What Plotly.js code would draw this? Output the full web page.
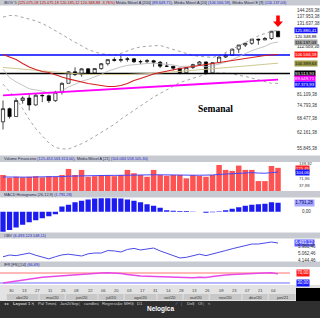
<!DOCTYPE html>
<html><head><meta charset="utf-8">
<script src="https://cdn.plot.ly/plotly-3.0.1.min.js"></script>
<style>html,body{margin:0;padding:0;background:#fff;overflow:hidden}#c{width:320px;height:318px}</style>
</head><body><div id="c"></div>
<script>
// ---------- DATA (weekly IBOV candles, index 0 = week of 23/03/2020) ----------
const weekIdx = Array.from({length:43},(_,i)=>i);
const openP  = [67070,73430,69540,77680,78990,75330,80510,80260,77560,82170,87400,94640,92800,96570,93830,96760,100030,102890,102380,102910,103440,101350,101470,102140,101060,98360,98290,96990,94020,97480,99450,101260,93950,100750,104720,106040,110580,113750,115130,118430,117810,119020,125075.18];
const highP  = [77700,74000,78900,79900,81000,81500,81000,80900,83000,88000,95000,97600,97000,97000,97000,100500,103000,104500,105700,104600,104000,102800,103300,102800,102000,101200,98500,97000,98000,100000,101900,101600,101000,105000,107300,110900,113800,115500,118500,118900,120200,125300,125075.18];
const lowP   = [63600,68600,69500,76000,72500,75000,76800,76400,77000,80900,87400,92000,91500,93200,93000,96000,98800,101500,101000,101400,100600,99700,100500,97900,97000,97700,95500,93000,94000,96500,98500,93200,93900,100300,104000,105800,107600,112200,113900,114000,117700,117900,120185.12];
const closeP = [73430,69540,77680,78990,75330,80510,80260,77560,82170,87400,94640,92800,96570,93830,96760,100030,102890,102380,102910,103440,101350,101470,102140,101060,98360,98290,96990,94020,97480,99450,101260,93950,100750,104720,106040,110580,113750,115130,118430,117810,119020,125075.18,120348.88];
const sma20  = [106600,104800,103000,100200,97800,96100,94800,94200,92600,91300,90100,89100,87900,87300,86700,86100,85500,85500,86100,87300,89100,90400,91900,93200,94200,95200,96100,96800,97500,98200,98800,99500,100200,100900,101600,102300,103000,103700,104400,105100,105900,106200,106566.59];
const sma200 = [80400,80600,80800,81000,81200,81400,81700,81900,82100,82300,82500,82700,82900,83200,83400,83600,83800,84000,84300,84500,84700,84900,85100,85300,85600,85800,86000,86200,86500,86700,86900,87200,87400,87600,87800,88100,88300,88500,88800,89000,89200,89400,89649.71];
const smaOlive = [97500,97200,96800,96400,96000,95600,95200,94800,94300,93900,93600,93300,93100,92900,92800,92700,92700,92700,92800,92900,93000,93200,93400,93600,93900,94200,94500,94800,95100,95500,95800,96100,96500,96900,97300,97700,98100,98500,98900,99300,99700,100100,100399.63];
const ema9   = [96300,90900,88300,86400,84200,83500,82900,81800,81800,83000,85300,86800,88700,89800,91200,93000,95000,96500,97800,98900,99400,99800,100200,100400,100000,99700,99200,98200,98100,98400,99000,98000,98600,99800,101000,102900,105100,107100,109400,111100,112700,115200,116137.03];
const bbUpper= [137900,139400,139200,137800,136000,134200,131900,128800,125700,122300,119000,115800,112800,110300,108500,107200,106500,106200,107400,109200,111100,112300,112900,113200,113400,111800,110700,108800,107400,105900,105200,104800,104500,105600,108100,110300,113400,115800,118600,121100,123200,124900,125880.41];
const bbLower= [86900,82400,78600,73400,68200,64000,60700,58000,56200,55700,55600,56600,57700,59000,60700,62200,63900,65900,68300,70400,73000,74900,77200,79500,81500,83800,85700,87900,89200,90800,92200,93100,93900,94000,93800,93400,92300,91700,90600,89500,88400,87400,87373.93];
const hLineBlue = 106200, hLineBlack = 93513.93;
const volume = [89,75,80,77,80,83,77,83,80,89,120,89,115,80,83,89,89,83,89,115,98,89,80,115,89,85,89,89,72,89,85,80,89,140,115,110,137,115,115,58,58,135,125.45];
const volMA21 = [79,78,78,78,78,79,79,79,80,81,83,84,86,86,86,86,87,87,88,89,90,90,89,90,90,89,89,88,88,88,88,88,89,92,94,96,98,100,101,99,98,101,104.06];
const macdHist = [-3980,-3600,-3100,-2600,-2100,-1700,-1300,-900,-500,1050,1400,1900,2200,2450,2650,2720,2720,2720,2650,2450,2200,1900,1500,1200,800,300,200,150,150,-50,0,-200,-100,100,300,600,900,1200,1400,1500,1600,1900,1791.28];
const obv = [4600,4830,4750,4900,5100,4800,4550,4300,4600,4850,4950,4850,4700,5000,5110,5110,5450,5400,5250,5600,5750,5530,5700,5800,5400,5050,4800,4430,4520,4700,4950,4750,4950,5200,5450,5700,5900,6100,6350,6350,6500,6630,6493.12];
const ifr = [30,34,40,43,46,50,53,55,57,59,62,63,65,66,68,70,71,70,68,64,60,58,57,56,55,54,53,51,50,51,53,52,56,60,62,64,66,67,68,69,70,71,66.69];
const ifrHigh = 70, ifrLow = 30;
const dayIdx = [1,3,5,7,9,11,13,15,17,19,21,23,25,27,29,31,33,35,37,39,41];
const dayLabels = ["30","13","27","11","25","08","22","06","20","03","17","31","14","28","13","26","09","23","07","21","04"];
const monthLabels = ["abr/20","mai/20","jun/20","jul/20","ago/20","set/20","out/20","nov/20","dez/20","jan/21"];
const monthStart = [0.5,5.5,9.5,14.5,18.5,23.5,27.5,31.5,36.5,40.5,44.75];
const mainTickVals = [144269.38,137953.38,131637.38,112689.38,81109.38,74793.38,68477.38,62161.38,55845.38];
const mainTickText = ["144.269,38","137.953,38","131.637,38","112.689,38","81.109,38","74.793,38","68.477,38","62.161,38","55.845,38"];
const mainBoxes = [
  [125880.41,"125.880,41","#1414ff","#fff",0],
  [120348.88,"120.348,88","#ffffff","#000",0],
  [116137.03,"116.137,03","#a3a3a3","#000",0],
  [106566.59,"106.566,59","#ff1a1a","#fff",0],
  [100399.63,"100.399,63","#9c9a44","#111",0],
  [93513.93,"93.513,93","#000000","#fff",0],
  [89649.71,"89.649,71","#ff00ff","#fff",1.2],
  [87373.93,"87.373,93","#1414ff","#fff",-1.2]];
const volTickVals=[139.92,71.96,37.98], volTickText=["139,92","71,96","37,98"];
const volBoxes=[[125.45,"125,45","#ff2020","#fff"],[104.06,"104,06","#1414ff","#fff"]];
const obvTickVals=[5980.46,5062.46,4144.46], obvTickText=["5.980,46","5.062,46","4.144,46"];

// ---------- HELPERS ----------
const W=320,H=318;
const PX=p=>p/W, PY=p=>1-p/H;
const dom=(t,b)=>[1-b/H,1-t/H];
const idxToPx=i=>3+6.548*i;
const hidden={showgrid:false,zeroline:false,showticklabels:false,ticks:'',showline:false,fixedrange:true};
const FONT='Liberation Sans, Arial, sans-serif';

const traces=[];
traces.push({type:'scatter',mode:'lines',x:weekIdx,y:bbUpper,line:{color:'#9a9a9a',width:0.9,dash:'dot'},hoverinfo:'skip'});
traces.push({type:'scatter',mode:'lines',x:weekIdx,y:bbLower,line:{color:'#9a9a9a',width:0.9,dash:'dot'},hoverinfo:'skip'});
traces.push({type:'scatter',mode:'lines',x:[-2,46],y:[hLineBlue,hLineBlue],line:{color:'#0000ff',width:1.6},hoverinfo:'skip'});
traces.push({type:'scatter',mode:'lines',x:[-2,46],y:[hLineBlack,hLineBlack],line:{color:'#000000',width:1.6},hoverinfo:'skip'});
traces.push({type:'scatter',mode:'lines',x:weekIdx,y:smaOlive,line:{color:'#cfc890',width:1},hoverinfo:'skip'});
traces.push({type:'scatter',mode:'lines',x:weekIdx,y:ema9,line:{color:'#b5b5b5',width:0.8},hoverinfo:'skip'});
traces.push({type:'scatter',mode:'lines',x:weekIdx,y:sma200,line:{color:'#ff00ff',width:1.8},hoverinfo:'skip'});
traces.push({type:'scatter',mode:'lines',x:weekIdx,y:sma20,line:{color:'#d42020',width:1.1},hoverinfo:'skip'});
traces.push({type:'candlestick',x:weekIdx,open:openP,high:highP,low:lowP,close:closeP,
  increasing:{line:{color:'#000',width:0.7},fillcolor:'#ffffff'},
  decreasing:{line:{color:'#000',width:0.7},fillcolor:'#000000'},whiskerwidth:0,hoverinfo:'skip'});
traces.push({type:'bar',x:weekIdx,y:volume,yaxis:'y2',width:0.84,marker:{color:'#ff5252',line:{width:0}},hoverinfo:'skip'});
traces.push({type:'scatter',mode:'lines',x:weekIdx,y:volMA21,yaxis:'y2',line:{color:'#4646ff',width:1},hoverinfo:'skip'});
traces.push({type:'bar',x:weekIdx,y:macdHist,yaxis:'y3',width:0.8,marker:{color:'#1c1cf2',line:{width:0}},hoverinfo:'skip'});
traces.push({type:'scatter',mode:'lines',x:weekIdx,y:obv,yaxis:'y4',line:{color:'#4a4ae6',width:1},hoverinfo:'skip'});
traces.push({type:'scatter',mode:'lines',x:[-2,46],y:[ifrHigh,ifrHigh],yaxis:'y5',line:{color:'#ff7070',width:1},hoverinfo:'skip'});
traces.push({type:'scatter',mode:'lines',x:[-2,46],y:[ifrLow,ifrLow],yaxis:'y5',line:{color:'#7070ff',width:1},hoverinfo:'skip'});
traces.push({type:'scatter',mode:'lines',x:weekIdx,y:ifr,yaxis:'y5',line:{color:'#e848e8',width:1.3},hoverinfo:'skip'});

const shapes=[];
const rect=(x0,y0,x1,y1,fill)=>shapes.push({type:'rect',xref:'paper',yref:'paper',x0:PX(x0),x1:PX(x1),y0:PY(y1),y1:PY(y0),fillcolor:fill,line:{width:0},layer:'below'});
[[0,5.5],[155.5,162],[191,197.5],[232.5,238.5],[261.5,267]].forEach(b=>rect(0,b[0],320,b[1],'#c7cbd1'));
rect(0,285,320,301,'#e3e3e3');
for(let m=0;m<monthLabels.length;m++){
  rect(idxToPx(monthStart[m])+0.5,294,Math.min(idxToPx(monthStart[m+1])-0.5,295.5),300,'#c8c8c8');
}
rect(296,288,320,301,'#000000');
rect(0,301,320,318,'#2f2f2f');
const ap=[[276.2,15.5],[279.8,15.5],[279.8,21.5],[283,21.5],[278,27],[273,21.5],[276.2,21.5]];
shapes.push({type:'path',xref:'paper',yref:'paper',path:'M'+ap.map(p=>PX(p[0])+','+PY(p[1])).join(' L')+' Z',fillcolor:'#ff0000',line:{width:0}});

const ann=[];
const A=(o)=>ann.push(Object.assign({showarrow:false,font:{family:FONT,size:4.5,color:'#333'}},o));
const blue=s=>'<span style="color:#1c1cd0">'+s+'</span>';
const HF={family:FONT,size:3.9,color:'#1e1e50'};
A({xref:'paper',yref:'paper',x:PX(1.5),y:PY(2.9),xanchor:'left',yanchor:'middle',font:HF,
  text:'IBOV 5 <span style="color:#c00000">(125.075,18 125.075,18 120.185,12 120.348,88 -3,76%)</span> Média Móvel A [200] '+blue('(89.649,71)')+', Média Móvel A [20] '+blue('(106.566,59)')+', Média Móvel E [9] '+blue('(116.137,03)')});
A({xref:'paper',yref:'paper',x:PX(1.5),y:PY(158.8),xanchor:'left',yanchor:'middle',font:HF,
  text:'Volume Financeiro '+blue('(125.453.563.313,00)')+', Média Móvel A [21] '+blue('(104.063.558.105,30)')});
A({xref:'paper',yref:'paper',x:PX(1.5),y:PY(194.3),xanchor:'left',yanchor:'middle',font:HF,text:'MACD Histograma (26,12,9) '+blue('(1.791,28)')});
A({xref:'paper',yref:'paper',x:PX(1.5),y:PY(235.5),xanchor:'left',yanchor:'middle',font:HF,text:'OBV '+blue('(6.493.123.548,11)')});
A({xref:'paper',yref:'paper',x:PX(1.5),y:PY(264.3),xanchor:'left',yanchor:'middle',font:HF,text:'IFR [FS] [14] '+blue('(66,69)')});
mainTickVals.forEach((v,i)=>A({xref:'paper',yref:'y',x:PX(295),y:Math.log10(v),xanchor:'left',yanchor:'middle',text:mainTickText[i]}));
mainBoxes.forEach(b=>A({xref:'paper',yref:'y',x:PX(293.5),y:Math.log10(b[0]),yshift:b[4],xanchor:'left',yanchor:'middle',text:b[1],bgcolor:b[2],borderpad:0,font:{family:FONT,size:4.3,color:b[3]}}));
volTickVals.forEach((v,i)=>A({xref:'paper',yref:'y2',x:PX(297),y:v,yshift:i===0?1.8:0,xanchor:'left',yanchor:'middle',text:volTickText[i],font:{family:FONT,size:4.2,color:'#333'}}));
volBoxes.forEach((b,i)=>A({xref:'paper',yref:'y2',x:PX(294.5),y:b[0],yshift:i===0?-0.8:0,xanchor:'left',yanchor:'middle',text:b[1],bgcolor:b[2],borderpad:0,font:{family:FONT,size:4.2,color:b[3]}}));
A({xref:'paper',yref:'y3',x:PX(294),y:1791.28,xanchor:'left',yanchor:'middle',text:'1.791,28',bgcolor:'#a8a8ff',borderpad:0.3,font:{family:FONT,size:4.5,color:'#00007a'}});
A({xref:'paper',yref:'y3',x:PX(300),y:0,xanchor:'left',yanchor:'middle',text:'0,00'});
A({xref:'paper',yref:'y4',x:PX(294),y:6493.12,xanchor:'left',yanchor:'middle',text:'6.493,12',bgcolor:'#5a5aff',borderpad:0.3,font:{family:FONT,size:4.5,color:'#fff'}});
obvTickVals.forEach((v,i)=>A({xref:'paper',yref:'y4',x:PX(296),y:v,xanchor:'left',yanchor:'middle',text:obvTickText[i]}));
A({xref:'paper',yref:'y5',x:PX(296),y:ifrHigh,xanchor:'left',yanchor:'middle',text:'70,00',bgcolor:'#ff1a1a',borderpad:0.3,font:{family:FONT,size:4.5,color:'#fff'}});
A({xref:'paper',yref:'y5',x:PX(296),y:ifrLow,xanchor:'left',yanchor:'middle',text:'30,00',bgcolor:'#1a1aff',borderpad:0.3,font:{family:FONT,size:4.5,color:'#fff'}});
A({xref:'paper',yref:'paper',x:PX(215),y:PY(109),xanchor:'center',yanchor:'middle',text:'<b>Semanal</b>',font:{family:'Liberation Serif, Times New Roman, serif',size:9.5,color:'#000'}});
dayIdx.forEach((d,i)=>A({xref:'x',yref:'paper',x:d+0.3,y:PY(290.5),xanchor:'center',yanchor:'middle',text:dayLabels[i],font:{family:FONT,size:4.2,color:'#444'}}));
monthLabels.forEach((m,i)=>{
  const c=(idxToPx(monthStart[i])+Math.min(idxToPx(monthStart[i+1]),296))/2;
  A({xref:'paper',yref:'paper',x:PX(c),y:PY(297.2),xanchor:'center',yanchor:'middle',text:m,font:{family:FONT,size:4.2,color:'#333'}});
});
const bb=[[2,'◂ ▸'],[11,'<b>Layout 1</b> ✕'],[36,'Pal Times'],[58,'Jan2i/Sep'],[82,'candles'],[100,'Regressão'],[122,'MHG'],[135,'D1'],[185,'Dell'],[196,'Ol'],[206,'<']];
bb.forEach(b=>A({xref:'paper',yref:'paper',x:PX(b[0]),y:PY(303.8),xanchor:'left',yanchor:'middle',text:b[1],font:{family:FONT,size:4.2,color:'#d0d0d0'}}));
[33,55,79,98,118,132,181,193,203].forEach(x=>A({xref:'paper',yref:'paper',x:PX(x),y:PY(303.8),xanchor:'center',yanchor:'middle',text:'|',font:{family:FONT,size:4.2,color:'#888'}}));
A({xref:'paper',yref:'paper',x:PX(160),y:PY(308.5),xanchor:'center',yanchor:'middle',text:'<b>Nelogica</b>',font:{family:FONT,size:6.5,color:'#ffffff'}});
A({xref:'paper',yref:'paper',x:PX(177),y:PY(303.6),xanchor:'center',yanchor:'middle',text:'<b>✓</b>',font:{family:'DejaVu Sans',size:4.3,color:'#3aa0ff'}});

const layout={width:W,height:H,margin:{l:0,r:0,t:0,b:0},paper_bgcolor:'#ffffff',plot_bgcolor:'rgba(0,0,0,0)',showlegend:false,
  font:{family:FONT,size:5,color:'#333'},
  xaxis:Object.assign({domain:[0,290/320],range:[-0.458,43.83],rangeslider:{visible:false}},hidden),
  yaxis:Object.assign({domain:dom(5.5,155.5),type:'log',range:[Math.log10(53200),Math.log10(149300)]},hidden),
  yaxis2:Object.assign({domain:dom(162,191),range:[7.4,155.3],anchor:'x'},hidden),
  yaxis3:Object.assign({domain:dom(197.5,232.5),range:[-4119,2846],anchor:'x'},hidden),
  yaxis4:Object.assign({domain:dom(238.5,261.5),range:[3940,7114],anchor:'x'},hidden),
  yaxis5:Object.assign({domain:dom(267,285),range:[22,94],anchor:'x'},hidden),
  shapes:shapes,annotations:ann,bargap:0.1};
Plotly.newPlot('c',traces,layout,{staticPlot:true,displayModeBar:false});
</script></body></html>
